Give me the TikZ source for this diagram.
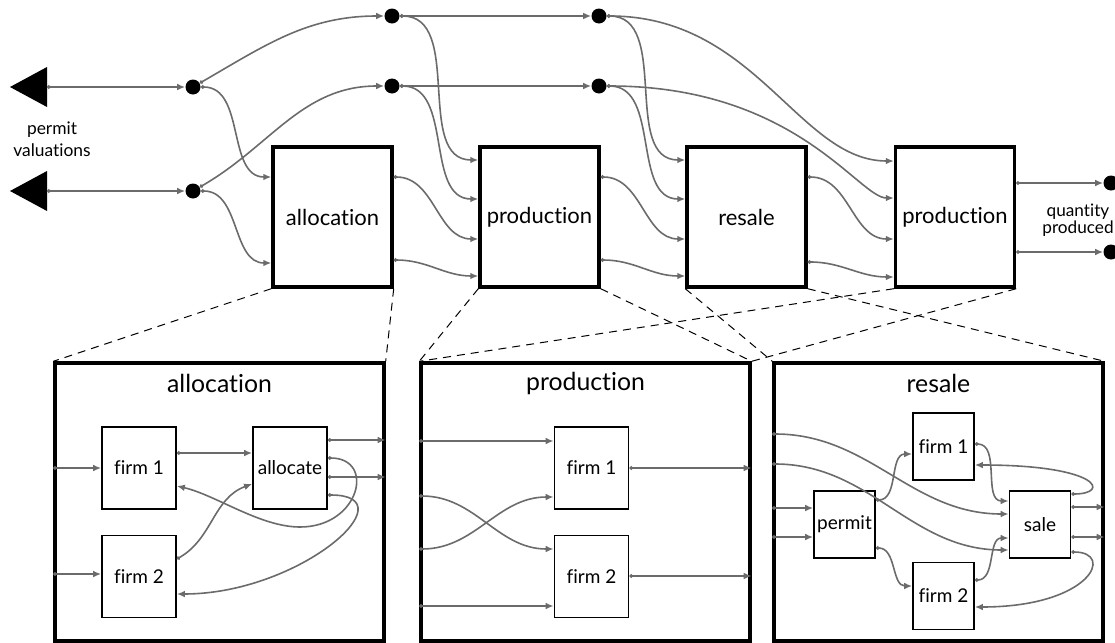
\documentclass[tikz,border=0pt]{standalone}
\usepackage{fontspec}
\setmainfont{Lato}[Ligatures=NoCommon]
\usepackage{tikz}
\usetikzlibrary{arrows.meta}
\usetikzlibrary{calc}
\usetikzlibrary{positioning}

\tikzset{
  stage/.style={draw, line width=1.7pt, minimum width=59.5pt, minimum height=70pt, inner sep=0pt, font=\fontsize{11}{13}\selectfont},
  panel/.style={draw, line width=1.7pt, minimum width=164.5pt, minimum height=139pt, inner sep=0pt},
  paneltitle/.style={inner sep=0pt, font=\fontsize{12.4}{14}\selectfont},
  firmbox/.style={draw, line width=0.9pt, minimum width=37pt, minimum height=41pt, inner sep=0pt, font=\fontsize{9.5}{11}\selectfont},
  smallbox/.style={draw, line width=0.9pt, minimum width=30.5pt, minimum height=33.5pt, inner sep=0pt, font=\fontsize{9.5}{11}\selectfont},
  junction/.style={circle, fill, inner sep=0pt, minimum size=7.5pt},
  flow/.style={draw=black!58, line width=0.8pt, {Circle[length=1.8pt]}-{Latex[length=4pt,width=3.4pt]}},
  zoomline/.style={line width=0.5pt, dash pattern=on 4pt off 3pt},
  note/.style={align=center, inner sep=0pt}
}

\begin{document}
\begin{tikzpicture}[x=0.5pt, y=-0.5pt]
 \useasboundingbox (0,0) rectangle (1115,643);

 % permit valuations
 \coordinate (val1) at (47,87);
 \coordinate (val2) at (47,191);
 \fill (val1) ++(0,-20) -- ++(-37,20) -- ++(37,20) -- cycle;
 \fill (val2) ++(0,-20) -- ++(-37,20) -- ++(37,20) -- cycle;
 \node[note, font=\fontsize{8.7}{11}\selectfont] (valtext) at (52,139) {permit\\valuations};

 \node[junction] (a1) at (193,87) {};
 \node[junction] (a2) at (193,191) {};
 \node[junction] (b1) at (392,16) {};
 \node[junction] (b2) at (392,86) {};
 \node[junction] (c1) at (599,16) {};
 \node[junction] (c2) at (599,86) {};
 \node[junction] (q1) at (1111,183) {};
 \node[junction] (q2) at (1111,252) {};

 \node[stage] (alloc) at (332.5,217) {allocation};
 \node[stage] (prod) at (539.5,217) {production};
 \node[stage] (resale) at (746.5,217) {resale};
 \node[stage] (prod2) at (955,217) {production};
 \node[note, font=\fontsize{8.6}{8.6}\selectfont] (qtext) at (1078,220) {quantity\\produced};

 \draw[flow] (val1) -- (a1);
 \draw[flow] (val2) -- (a2);
 \draw[flow] (a1) to[out=30,in=180] (b1);
 \draw[flow] (a2) to[out=30,in=180] (b2);
 \draw[flow] (a1) to[out=0,in=180] (alloc.west |- 0,177);
 \draw[flow] (a2) to[out=0,in=180] (alloc.west |- 0,263);
 \draw[flow] (b1) -- (c1);
 \draw[flow] (b2) -- (c2);
 \draw[flow] (b1) to[out=0,in=180] (prod.west |- 0,160);
 \draw[flow] (b2) to[out=0,in=180] (prod.west |- 0,199);
 \draw[flow] (alloc.east |- 0,177) to[out=0,in=180] (prod.west |- 0,239);
 \draw[flow] (alloc.east |- 0,260) to[out=0,in=180] (prod.west |- 0,276);
 \draw[flow] (c1) to[out=0,in=180] (resale.west |- 0,160);
 \draw[flow] (c2) to[out=0,in=180] (resale.west |- 0,199);
 \draw[flow] (prod.east |- 0,177) to[out=0,in=180] (resale.west |- 0,239);
 \draw[flow] (prod.east |- 0,260) to[out=0,in=180] (resale.west |- 0,276);
 \draw[flow] (c1) .. controls +(157,0) and +(-95,0) .. (prod2.west |- 0,161);
 \draw[flow] (c2) .. controls +(197,0) and +(-35,0) .. (prod2.west |- 0,198);
 \draw[flow] (resale.east |- 0,177) to[out=0,in=180] (prod2.west |- 0,239);
 \draw[flow] (resale.east |- 0,262) to[out=0,in=180] (prod2.west |- 0,277);
 \draw[flow] (prod2.east |- q1) -- (q1);
 \draw[flow] (prod2.east |- q2) -- (q2);

 % zoomed panels
 \node[panel] (palloc) at (219.5,502) {};
 \node[panel] (pprod) at (585.5,502) {};
 \node[panel] (pres) at (938.5,502) {};
 \node[paneltitle] (talloc) at (219.5,383) {allocation};
 \node[paneltitle] (tprod) at (585.5,383) {production};
 \node[paneltitle] (tres) at (938.5,383) {resale};

 \draw[zoomline] (alloc.south west) -- (palloc.north west);
 \draw[zoomline] (alloc.south east) -- (palloc.north east);
 \draw[zoomline] (prod.south west) -- (pprod.north west);
 \draw[zoomline] (prod.south east) -- (pprod.north east);
 \draw[zoomline] (resale.south west) -- (pres.north west);
 \draw[zoomline] (resale.south east) -- (pres.north east);
 \draw[zoomline] (prod2.south west) -- (pprod.north west);
 \draw[zoomline] (prod2.south east) -- (pprod.north east);

 % allocation panel
 \node[firmbox] (af1) at (139,468) {firm 1};
 \node[firmbox] (aall) at (290,468) {allocate};
 \node[firmbox] (af2) at (139,576.5) {firm 2};
 \draw[flow] (palloc.west |- af1) -- (af1);
 \draw[flow] (palloc.west |- 0,574) -- (af2.west |- 0,574);
 \draw[flow] (af1.east |- 0,453) -- (aall.west |- 0,453);
 \draw[flow] (aall.east |- 0,440) -- (palloc.east |- 0,440);
 \draw[flow] (aall.east |- 0,477) -- (palloc.east |- 0,477);
 \draw[flow] (aall.east |- 0,458) .. controls +(48,0) and +(60,0) .. (300,527)
   .. controls +(-40,0) and +(39,9) .. (af1.east |- 0,486);
 \draw[flow] (aall.east |- 0,495) .. controls +(83,0) and +(124,0) .. (af2.east |- 0,594);
 \draw[flow] (af2.east |- 0,559) to[out=30,in=200] (aall.west |- 0,484);

 % production panel
 \node[firmbox] (pf1) at (591.5,468) {firm 1};
 \node[firmbox] (pf2) at (591.5,576.5) {firm 2};
 \draw[flow] (pprod.west |- 0,441) -- (pf1.west |- 0,441);
 \draw[flow] (pprod.west |- 0,496) to[out=0,in=180] (pf2.west |- 0,549);
 \draw[flow] (pprod.west |- 0,549) to[out=0,in=180] (pf1.west |- 0,497);
 \draw[flow] (pprod.west |- 0,606) -- (pf2.west |- 0,606);
 \draw[flow] (pf1) -- (pprod.east |- pf1);
 \draw[flow] (pf2.east |- 0,576) -- (pprod.east |- 0,576);

 % resale panel
 \node[smallbox] (rf1) at (943.5,446.5) {firm 1};
 \node[smallbox] (rperm) at (844.5,524.5) {permit};
 \node[smallbox] (rsale) at (1040,524.5) {sale};
 \node[smallbox] (rf2) at (943.5,596) {firm 2};
 \draw[flow] (pres.west |- 0,434) to[out=0,in=180] (rsale.west |- 0,514);
 \draw[flow] (pres.west |- 0,464) to[out=0,in=180] (rsale.west |- 0,550);
 \draw[flow] (pres.west |- 0,508) -- (rperm.west |- 0,508);
 \draw[flow] (pres.west |- 0,537) -- (rperm.west |- 0,537);
 \draw[flow] (rperm.east |- 0,500) to[out=0,in=180] (rf1.west |- 0,454);
 \draw[flow] (rperm.east |- 0,548) to[out=0,in=180] (rf2.west |- 0,586);
 \draw[flow] (rf1.east |- 0,444) to[out=0,in=180] (rsale.west |- 0,501);
 \draw[flow] (rf2.east |- 0,580) to[out=0,in=180] (rsale.west |- 0,538);
 \draw[flow] (rsale.east |- 0,494) .. controls +(39,0) and +(126,0) .. (rf1.east |- 0,465);
 \draw[flow] (rsale.east |- 0,552) .. controls +(44,0) and +(116,0) .. (rf2.east |- 0,607);
 \draw[flow] (rsale.east |- 0,507) -- (pres.east |- 0,507);
 \draw[flow] (rsale.east |- 0,537) -- (pres.east |- 0,537);
\end{tikzpicture}
\end{document}
